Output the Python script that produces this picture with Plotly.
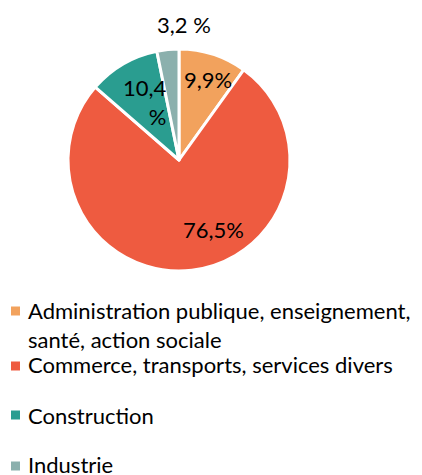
import math
import plotly.graph_objects as go

categories = ["Administration publique, enseignement,<br>santé, action sociale",
              "Commerce, transports, services divers",
              "Construction",
              "Industrie"]
values = [9.9, 76.5, 10.4, 3.2]
label_texts = ["9,9%", "76,5%", "10,4<br>%", "3,2 %"]
colors = ["#F2A25D", "#EE5B40", "#2A9D90", "#8BB0AD"]

W, H = 422, 475
FONT = "Lato"

# pie geometry (figure pixels)
cx, cy, r = 171, 152, 111
fig = go.Figure()
fig.add_trace(go.Pie(
    labels=categories, values=values,
    textinfo="none",
    sort=False, direction="clockwise", rotation=0,
    marker=dict(colors=colors, line=dict(color="white", width=3)),
    domain=dict(x=[(cx - r) / W, (cx + r) / W], y=[1 - (cy + r) / H, 1 - (cy - r) / H]),
    showlegend=False, hoverinfo="label+percent",
))

# data labels placed along each slice's mid-angle (Excel-like placement)
label_radius = [0.77, 0.70, 0.60, 1.22]
label_nudge_deg = [2, -20, 0, 8]
label_align = ["center", "center", "right", "center"]
total = sum(values)
cum = 0.0
for v, txt, rf, nd, al in zip(values, label_texts, label_radius, label_nudge_deg, label_align):
    mid = (cum + v / 2) / total * 360 + nd
    cum += v
    a = math.radians(mid)
    px = cx + rf * r * math.sin(a)
    py = cy - rf * r * math.cos(a)
    fig.add_annotation(text=txt, xref="paper", yref="paper", x=px / W, y=1 - py / H,
                       xanchor="center", yanchor="middle", showarrow=False, align=al,
                       font=dict(family=FONT, size=22, color="black"))

# Legend built manually to reproduce the Excel layout
marker_y = [303, 358, 407, 458]
text_y = [317, 356, 407, 456]
for i, (cat, col) in enumerate(zip(categories, colors)):
    y = marker_y[i]
    fig.add_shape(type="rect", xref="paper", yref="paper",
                  x0=3 / W, x1=12 / W, y0=1 - (y + 4.5) / H, y1=1 - (y - 4.5) / H,
                  fillcolor=col, line=dict(width=0))
    fig.add_annotation(text=cat, xref="paper", yref="paper", x=18 / W, y=1 - text_y[i] / H,
                       xanchor="left", yanchor="middle", showarrow=False, align="left",
                       font=dict(family=FONT, size=22, color="black"))

fig.update_layout(width=W, height=H, margin=dict(l=0, r=0, t=0, b=0),
                  paper_bgcolor="white", plot_bgcolor="white")
fig.write_html("out.html")
